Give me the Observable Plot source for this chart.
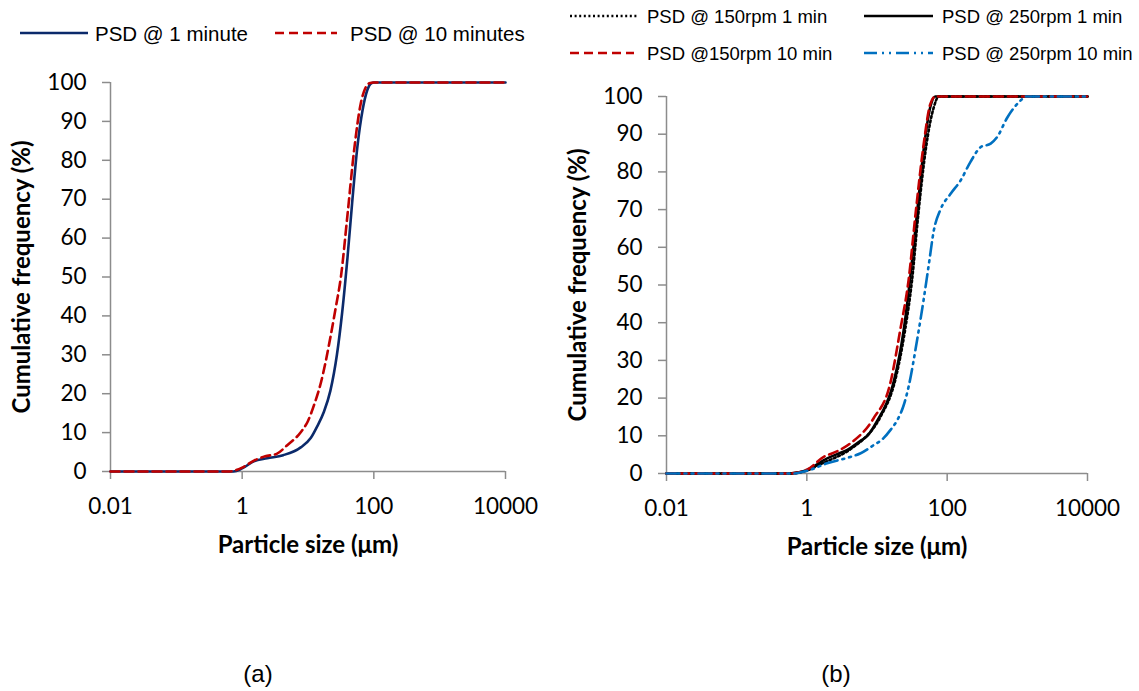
<!DOCTYPE html>
<html>
<head>
<meta charset="utf-8">
<script src="https://cdn.jsdelivr.net/npm/d3@7"></script>
<script src="https://cdn.jsdelivr.net/npm/@observablehq/plot@0.6"></script>
<style>
  html, body { margin: 0; padding: 0; background: #fff; }
  #root { position: relative; width: 1139px; height: 691px; overflow: hidden; }
  .chart { position: absolute; top: 0; }
  .overlay { position: absolute; left: 0; top: 0; pointer-events: none; }
</style>
</head>
<body>
<div id="root"></div>
<script>
// ---------- data (particle size in µm, cumulative frequency in %) ----------
const xTicks = [0.01, 1, 100, 10000];
const yTicks = [0, 10, 20, 30, 40, 50, 60, 70, 80, 90, 100];

// (a)
const sizesA1 = [0.01, 0.5, 0.74, 1, 1.5, 2.4, 4.2, 7.76, 11, 13.8, 17.4, 21.9, 27.5, 33.1, 39.8, 46.8, 56.2, 67.6, 79.4, 91.2, 100, 10000];
const freqA1  = [0, 0, 0, 0.8, 2.6, 3.4, 4.2, 6.2, 8.6, 11.6, 15.3, 20.8, 30, 41, 55, 69, 83.4, 93, 98, 99.8, 100, 100];
const sizesA10 = [0.01, 0.5, 0.63, 1, 1.51, 2.24, 3.39, 4.79, 7.76, 10, 12.3, 15.8, 21.9, 26.3, 31.6, 39.8, 50.1, 63.1, 74.1, 85.1, 100, 10000];
const freqA10  = [0, 0, 0, 1, 2.8, 3.9, 4.6, 6.7, 10.1, 13, 17, 23, 34.5, 42, 50, 66, 82.5, 94.5, 98.5, 99.8, 100, 100];

// (b)
const sizesB150_1 = [0.01, 0.56, 1, 1.58, 2.4, 3.72, 4.68, 6.31, 11.2, 18.2, 25.1, 31.6, 38.9, 50.1, 64.6, 75.9, 10000];
const freqB150_1  = [0, 0, 0.8, 2.5, 4, 5.8, 7.1, 9, 15, 24.8, 38, 51.3, 69, 86.6, 97.2, 100, 100];
const sizesB250_1 = [0.01, 0.56, 1, 1.95, 3.02, 3.72, 5.75, 7.24, 11.2, 12.3, 17.4, 24, 29.5, 37.2, 46.8, 57.5, 67.6, 10000];
const freqB250_1  = [0, 0, 0.9, 4, 5.5, 6.2, 8.6, 9.9, 15.5, 16.8, 24.5, 38, 51.3, 69, 86.6, 97.2, 100, 100];
const sizesB150_10 = [0.01, 0.56, 1, 1.74, 2.63, 4.17, 8.91, 15.5, 21.4, 28.2, 35.5, 45.7, 57.5, 67.6, 10000];
const freqB150_10  = [0, 0, 1, 4.4, 5.8, 8, 14.6, 24, 38, 51.3, 69, 86.6, 98, 100, 100];
const sizesB250_10 = [0.01, 0.63, 1, 1.95, 4.17, 5.75, 8.91, 12.3, 15.5, 19.5, 24, 28.2, 37.2, 46.8, 55, 64.6, 79.4, 112, 155, 214, 302, 417, 513, 724, 1122, 1318, 10000];
const freqB250_10  = [0, 0, 0.7, 2.7, 4.4, 5.3, 7.5, 9.3, 11.5, 14.2, 18.1, 23, 35.3, 46.8, 55.7, 64.5, 69.8, 74.2, 77.7, 82.6, 86.6, 87.5, 89.2, 94.5, 99, 100, 100];

const legendA = ["PSD @ 1 minute", "PSD @ 10 minutes"];
const legendB = ["PSD @ 150rpm 1 min", "PSD @ 250rpm 1 min", "PSD @150rpm 10 min", "PSD @ 250rpm 10 min"];
const panelLabels = ["(a)", "(b)"];
const xTitle = "Particle size (μm)";
const yTitle = "Cumulative frequency (%)";

// ---------- styles ----------
const NAVY = "#0b2a6b", RED = "#c00000", BLUE = "#0070c0", BLACK = "#000000", AXIS = "#8c8c8c";
const styles = {
  a1:   {stroke: NAVY, strokeDasharray: null},
  a10:  {stroke: RED, strokeDasharray: "9,5"},
  b150_1:  {stroke: BLACK, strokeDasharray: "2,2.6"},
  b250_1:  {stroke: BLACK, strokeDasharray: null},
  b150_10: {stroke: RED, strokeDasharray: "9,5"},
  b250_10: {stroke: BLUE, strokeDasharray: "13,5,2,5,2,5"}
};

const toRows = (xs, ys) => xs.map((x, i) => ({size: x, freq: ys[i]}));
const FONT = "Lato, 'Open Sans', sans-serif";

function makeChart({width, height, mt, mr, mb, ml, series, titleOffX, titleOffY}) {
  return Plot.plot({
    width, height,
    marginTop: mt, marginRight: mr, marginBottom: mb, marginLeft: ml,
    style: {fontFamily: FONT, color: "#000", background: "transparent", overflow: "visible"},
    x: {type: "log", domain: [0.01, 10000]},
    y: {domain: [0, 100]},
    marks: [
      Plot.axisX({ticks: xTicks, tickFormat: d => String(d), tickSize: 8, tickPadding: 19,
                  fontSize: 22.5, stroke: AXIS, strokeWidth: 1.5, label: null}),
      Plot.axisY({ticks: yTicks, tickSize: 8, tickPadding: 16, fontSize: 22.5,
                  stroke: AXIS, strokeWidth: 1.5, label: null}),
      Plot.ruleY([0], {stroke: AXIS, strokeWidth: 1.5}),
      Plot.ruleX([0.01], {stroke: AXIS, strokeWidth: 1.5}),
      ...series.map(s => Plot.line(toRows(s.xs, s.ys), {
        x: "size", y: "freq", stroke: s.style.stroke, strokeWidth: 2.6,
        strokeDasharray: s.style.strokeDasharray, curve: "monotone-x"
      })),
      Plot.text([xTitle], {frameAnchor: "bottom", textAnchor: "middle", dy: titleOffY,
                           fontSize: 24, fontWeight: "bold", fill: "#000"}),
      Plot.text([yTitle], {frameAnchor: "left", textAnchor: "middle", dx: -titleOffX, rotate: -90,
                           fontSize: 24, fontWeight: "bold", fill: "#000"})
    ]
  });
}

const root = document.getElementById("root");

const chartA = makeChart({
  width: 560, height: 600, mt: 82, mr: 55, mb: 129, ml: 110,
  titleOffX: 88, titleOffY: 81,
  series: [
    {xs: sizesA1, ys: freqA1, style: styles.a1},
    {xs: sizesA10, ys: freqA10, style: styles.a10}
  ]
});
chartA.classList.add("chart");
chartA.style.left = "0px";
root.appendChild(chartA);

const chartB = makeChart({
  width: 579, height: 600, mt: 96, mr: 52, mb: 127, ml: 106,
  titleOffX: 88, titleOffY: 81,
  series: [
    {xs: sizesB150_1, ys: freqB150_1, style: styles.b150_1},
    {xs: sizesB250_1, ys: freqB250_1, style: styles.b250_1},
    {xs: sizesB150_10, ys: freqB150_10, style: styles.b150_10},
    {xs: sizesB250_10, ys: freqB250_10, style: styles.b250_10}
  ]
});
chartB.classList.add("chart");
chartB.style.left = "560px";
root.appendChild(chartB);

// ---------- legends and panel labels (overlay) ----------
const ns = "http://www.w3.org/2000/svg";
const ov = document.createElementNS(ns, "svg");
ov.setAttribute("width", 1139); ov.setAttribute("height", 691);
ov.setAttribute("class", "overlay");
root.appendChild(ov);

function legendItem(x1, x2, y, style, label, tx, fs) {
  const l = document.createElementNS(ns, "line");
  l.setAttribute("x1", x1); l.setAttribute("x2", x2);
  l.setAttribute("y1", y); l.setAttribute("y2", y);
  l.setAttribute("stroke", style.stroke); l.setAttribute("stroke-width", 2.6);
  if (style.strokeDasharray) l.setAttribute("stroke-dasharray", style.strokeDasharray);
  ov.appendChild(l);
  const t = document.createElementNS(ns, "text");
  t.setAttribute("x", tx); t.setAttribute("y", y);
  t.setAttribute("dominant-baseline", "central");
  t.setAttribute("font-family", "'Liberation Sans', Arial, sans-serif");
  t.setAttribute("font-size", fs);
  t.textContent = label;
  ov.appendChild(t);
}
legendItem(20, 88, 33, styles.a1, legendA[0], 95, 20.5);
legendItem(275, 337, 33, styles.a10, legendA[1], 350, 20.5);
legendItem(570, 637, 16, styles.b150_1, legendB[0], 647, 18.5);
legendItem(864, 933, 16, styles.b250_1, legendB[1], 942, 18.5);
legendItem(570, 634, 53, styles.b150_10, legendB[2], 647, 18.5);
legendItem(864, 933, 53, styles.b250_10, legendB[3], 942, 18.5);

[[258, panelLabels[0]], [836, panelLabels[1]]].forEach(([x, s]) => {
  const t = document.createElementNS(ns, "text");
  t.setAttribute("x", x); t.setAttribute("y", 673);
  t.setAttribute("text-anchor", "middle");
  t.setAttribute("dominant-baseline", "central");
  t.setAttribute("font-family", "'Liberation Sans', Arial, sans-serif");
  t.setAttribute("font-size", 24);
  t.textContent = s;
  ov.appendChild(t);
});
</script>
</body>
</html>
